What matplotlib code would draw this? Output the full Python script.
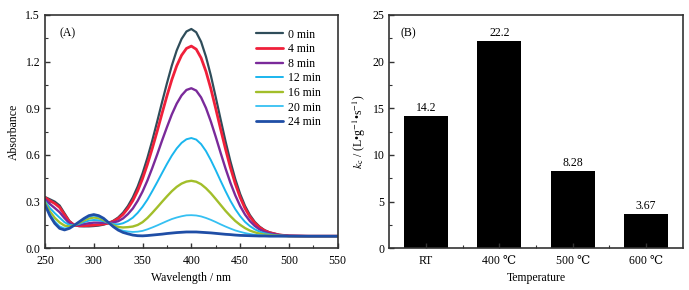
import matplotlib
matplotlib.use("Agg")
import matplotlib.pyplot as plt
from matplotlib.ticker import MultipleLocator, FormatStrFormatter, FixedLocator

plt.rcParams['font.family'] = ['Liberation Serif', 'DejaVu Serif']
plt.rcParams['mathtext.fontset'] = 'stix'
plt.rcParams['font.size'] = 8.5

# ---------------- data: panel A (UV-vis spectra) ----------------
wavelength = [250, 255, 260, 265, 270, 275, 280, 285, 290, 295, 300, 305, 310, 315, 320,
              325, 330, 335, 340, 345, 350, 355, 360, 365, 370, 375, 380, 385, 390, 395,
              400, 405, 410, 415, 420, 425, 430, 435, 440, 445, 450, 455, 460, 465, 470,
              475, 480, 490, 500, 520, 550]

abs_0min = [0.330, 0.315, 0.300, 0.275, 0.225, 0.176, 0.149, 0.142, 0.141, 0.141, 0.143, 0.146, 0.152, 0.162, 0.177,
            0.198, 0.229, 0.272, 0.327, 0.397, 0.482, 0.582, 0.694, 0.815, 0.940, 1.061, 1.175, 1.272, 1.346, 1.394,
            1.410, 1.389, 1.328, 1.232, 1.111, 0.972, 0.829, 0.689, 0.560, 0.446, 0.350, 0.273, 0.214, 0.170, 0.139,
            0.117, 0.103, 0.087, 0.080, 0.078, 0.078]
abs_4min = [0.326, 0.306, 0.288, 0.263, 0.216, 0.172, 0.149, 0.145, 0.145, 0.147, 0.149, 0.152, 0.156, 0.162, 0.173,
            0.191, 0.218, 0.257, 0.306, 0.370, 0.448, 0.540, 0.643, 0.753, 0.868, 0.980, 1.084, 1.173, 1.241, 1.285,
            1.300, 1.280, 1.224, 1.137, 1.026, 0.899, 0.767, 0.639, 0.520, 0.416, 0.328, 0.257, 0.203, 0.163, 0.134,
            0.114, 0.101, 0.086, 0.080, 0.078, 0.078]
abs_8min = [0.316, 0.285, 0.259, 0.232, 0.194, 0.161, 0.149, 0.150, 0.156, 0.161, 0.165, 0.165, 0.164, 0.163, 0.166,
            0.174, 0.192, 0.220, 0.256, 0.305, 0.365, 0.436, 0.517, 0.603, 0.693, 0.779, 0.861, 0.930, 0.983, 1.018,
            1.029, 1.014, 0.970, 0.902, 0.815, 0.717, 0.614, 0.514, 0.422, 0.341, 0.272, 0.217, 0.175, 0.144, 0.121,
            0.106, 0.096, 0.085, 0.080, 0.078, 0.078]
abs_12min = [0.304, 0.259, 0.226, 0.197, 0.168, 0.150, 0.149, 0.157, 0.168, 0.178, 0.182, 0.180, 0.174, 0.164, 0.156,
             0.154, 0.161, 0.176, 0.197, 0.228, 0.267, 0.313, 0.368, 0.425, 0.484, 0.542, 0.596, 0.642, 0.678, 0.701,
             0.709, 0.699, 0.670, 0.625, 0.567, 0.502, 0.434, 0.368, 0.306, 0.252, 0.207, 0.170, 0.143, 0.122, 0.107,
             0.097, 0.090, 0.082, 0.079, 0.078, 0.078]
abs_16min = [0.293, 0.237, 0.196, 0.166, 0.146, 0.140, 0.148, 0.163, 0.179, 0.192, 0.198, 0.194, 0.182, 0.164, 0.148,
             0.137, 0.134, 0.136, 0.140, 0.150, 0.168, 0.195, 0.228, 0.263, 0.299, 0.334, 0.367, 0.395, 0.416, 0.429,
             0.434, 0.428, 0.412, 0.386, 0.354, 0.317, 0.279, 0.241, 0.207, 0.176, 0.151, 0.130, 0.114, 0.103, 0.094,
             0.088, 0.085, 0.080, 0.078, 0.078, 0.078]
abs_20min = [0.285, 0.219, 0.173, 0.141, 0.128, 0.132, 0.148, 0.168, 0.187, 0.204, 0.210, 0.204, 0.189, 0.165, 0.142,
             0.123, 0.113, 0.108, 0.105, 0.107, 0.112, 0.122, 0.134, 0.147, 0.161, 0.175, 0.188, 0.198, 0.206, 0.212,
             0.213, 0.211, 0.205, 0.195, 0.183, 0.169, 0.154, 0.140, 0.127, 0.115, 0.106, 0.098, 0.092, 0.087, 0.084,
             0.082, 0.081, 0.079, 0.078, 0.078, 0.078]
abs_24min = [0.280, 0.210, 0.160, 0.128, 0.118, 0.128, 0.148, 0.170, 0.192, 0.210, 0.217, 0.210, 0.193, 0.166, 0.139,
             0.117, 0.102, 0.093, 0.085, 0.081, 0.080, 0.082, 0.085, 0.088, 0.091, 0.095, 0.098, 0.101, 0.103, 0.105,
             0.105, 0.105, 0.103, 0.101, 0.099, 0.096, 0.093, 0.090, 0.088, 0.085, 0.083, 0.082, 0.081, 0.080, 0.079,
             0.079, 0.078, 0.078, 0.078, 0.078, 0.078]

series_labels = ['0 min', '4 min', '8 min', '12 min', '16 min', '20 min', '24 min']
series_values = [abs_0min, abs_4min, abs_8min, abs_12min, abs_16min, abs_20min, abs_24min]

# ---------------- data: panel B (rate constants) ----------------
temperatures = ['RT', '400 ℃', '500 ℃', '600 ℃']
rate_constants = [14.2, 22.2, 8.28, 3.67]

# ---------------- styling ----------------
colors = ['#2f4d5a', '#f0203a', '#7a2a9a', '#1ab6ee', '#a2be2a', '#35c0f2', '#1f4ea6']
widths = [1.6, 2.0, 1.7, 1.4, 1.7, 1.3, 2.0]
spine_color = '#333333'

fig = plt.figure(figsize=(6.89, 2.90), dpi=100)
axA = fig.add_axes([0.0653, 0.1438, 0.4248, 0.8045])
axB = fig.add_axes([0.5650, 0.1438, 0.4258, 0.8045])

for lab, vals, c, lw in zip(series_labels, series_values, colors, widths):
    axA.plot(wavelength, vals, color=c, lw=lw, label=lab, solid_capstyle='round')

axA.set_xlim(250, 550)
axA.set_ylim(0, 1.5)
axA.xaxis.set_major_locator(MultipleLocator(50))
axA.xaxis.set_minor_locator(MultipleLocator(25))
axA.yaxis.set_major_locator(MultipleLocator(0.3))
axA.yaxis.set_minor_locator(MultipleLocator(0.15))
axA.yaxis.set_major_formatter(FormatStrFormatter('%.1f'))
axA.set_xlabel('Wavelength / nm', labelpad=4)
axA.set_ylabel('Absorbance', labelpad=4)
axA.text(0.05, 0.922, '(A)', transform=axA.transAxes, ha='left', va='center', fontsize=8.5)
leg = axA.legend(loc='upper left', bbox_to_anchor=(0.70, 0.967), frameon=False,
                 handlelength=2.3, handletextpad=0.45, labelspacing=0.22,
                 borderpad=0.0, fontsize=8.5)

bars = axB.bar(range(len(temperatures)), rate_constants, width=0.6, color='black')
axB.bar_label(bars, labels=[f'{v:g}' for v in rate_constants], padding=1.5, fontsize=8.5)
axB.set_xlim(-0.5, 3.5)
axB.set_ylim(0, 25)
axB.set_xticks(range(len(temperatures)))
axB.set_xticklabels(temperatures)
axB.xaxis.set_minor_locator(FixedLocator([0.5, 1.5, 2.5]))
axB.yaxis.set_major_locator(MultipleLocator(5))
axB.yaxis.set_minor_locator(MultipleLocator(2.5))
axB.set_xlabel('Temperature', labelpad=4)
axB.set_ylabel(r'$k_{\mathrm{c}}$ / (L•g$^{-1}$•s$^{-1}$)', labelpad=3)
axB.text(0.037, 0.922, '(B)', transform=axB.transAxes, ha='left', va='center', fontsize=8.5)

for ax in (axA, axB):
    for s in ax.spines.values():
        s.set_color(spine_color)
        s.set_linewidth(1.2)
    ax.tick_params(which='both', direction='in', color=spine_color, top=False, right=False,
                   labelsize=8.5)
    ax.tick_params(axis='x', which='both', pad=4.5)
    ax.tick_params(axis='y', which='both', pad=3.5)
    ax.tick_params(which='major', length=3.5, width=1)
    ax.tick_params(which='minor', length=2, width=0.8)

fig.savefig('out.png', dpi=100)
